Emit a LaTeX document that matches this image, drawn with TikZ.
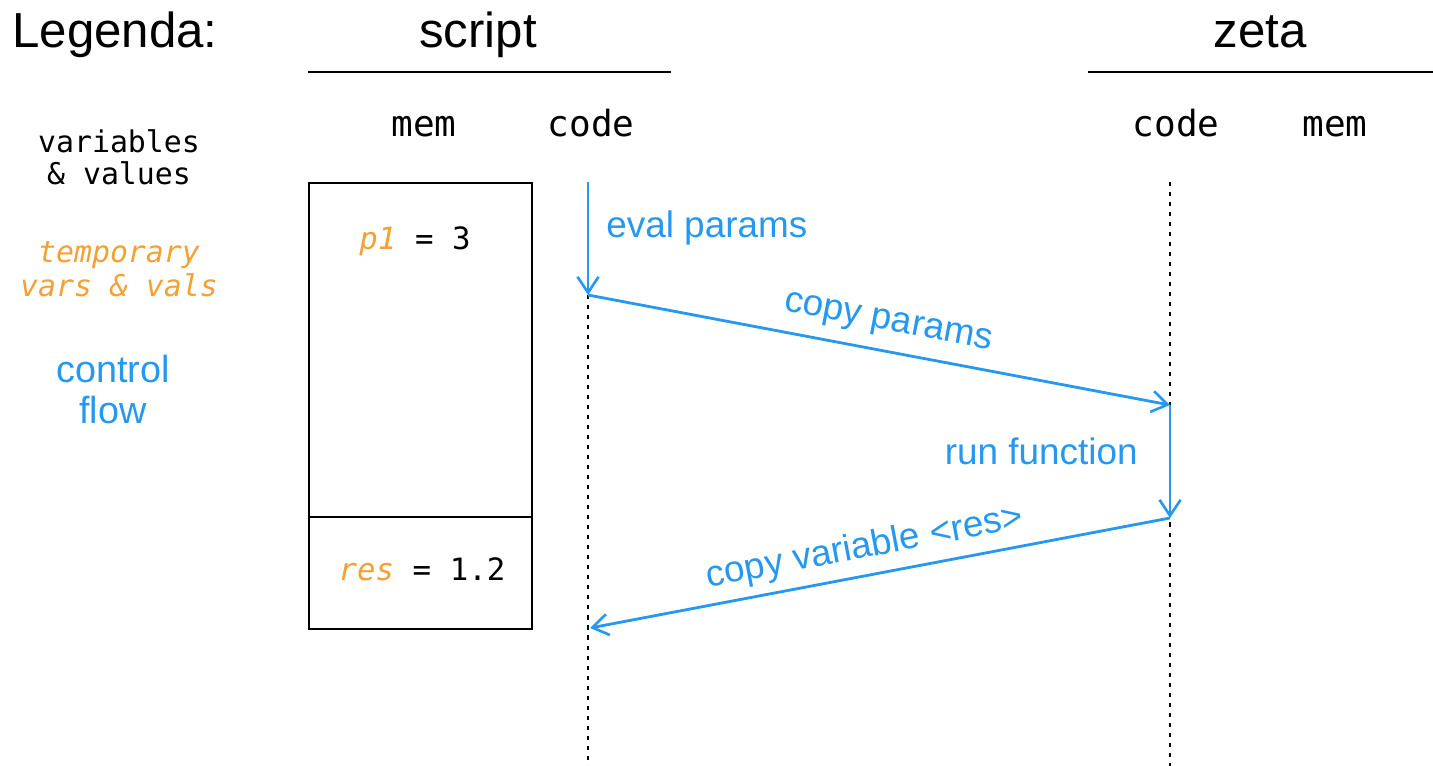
\documentclass[tikz,border=0pt]{standalone}
\usepackage{fontspec}
\setmainfont{Liberation Sans}
\setmonofont{DejaVu Sans Mono}
\usetikzlibrary{arrows.meta}
\definecolor{flowblue}{RGB}{38,152,240}
\definecolor{tmporange}{RGB}{245,160,50}
\tikzset{
  title/.style={font=\fontsize{28}{30}\selectfont, anchor=base, inner sep=0pt},
  colhead/.style={font=\ttfamily\fontsize{20.5}{22}\selectfont, anchor=base, inner sep=0pt},
  legmono/.style={font=\ttfamily\fontsize{17}{19}\selectfont, anchor=base, inner sep=0pt},
  legflow/.style={font=\fontsize{21.5}{23}\selectfont, text=flowblue, anchor=base, inner sep=0pt},
  flowlabel/.style={font=\fontsize{21}{23}\selectfont, text=flowblue, inner sep=0pt},
  memtext/.style={font=\ttfamily\fontsize{17.5}{19}\selectfont, anchor=base, inner sep=0pt},
  flow/.style={draw=flowblue, line width=1.6pt, -{Straight Barb[length=9pt, width=12pt, line width=1.5pt]}},
  lifeline/.style={draw=black, line width=1.3pt, dash pattern=on 2.3pt off 3.4pt},
  headline/.style={draw=black, line width=1.6pt},
  membox/.style={draw=black, line width=1.5pt},
}
\begin{document}
\begin{tikzpicture}[x=0.02cm, y=-0.02cm]
\useasboundingbox (0,0) rectangle (1433,766);

% titles
\node[title, anchor=base west] (legenda) at (12,48) {Legenda:};
\node[title] (script) at (478,48) {script};
\node[title] (zeta) at (1260,48) {zeta};
\draw[headline] (308,72) -- (671,72);
\draw[headline] (1088,72) -- (1433,72);

% column headers
\node[colhead] (smem) at (424,137) {mem};
\node[colhead] (scode) at (591,137) {code};
\node[colhead] (zcode) at (1176,137) {code};
\node[colhead] (zmem) at (1335,137) {mem};

% legend
\node[legmono] (leg1a) at (119,153) {variables};
\node[legmono] (leg1b) at (119,185) {\&{} values};
\node[legmono, text=tmporange, font=\ttfamily\itshape\fontsize{17}{19}\selectfont] (leg2a) at (119,263) {temporary};
\node[legmono, text=tmporange, font=\ttfamily\itshape\fontsize{17}{19}\selectfont] (leg2b) at (119,297) {vars \&{} vals};
\node[legflow] (leg3a) at (113,383) {control};
\node[legflow] (leg3b) at (113,424) {flow};

% memory box of script
\draw[membox] (309,183) rectangle (532,629);
\draw[membox] (309,517) -- (532,517);
\node[memtext] (p1) at (415,250) {\textcolor{tmporange}{\itshape p1} = 3};
\node[memtext] (res) at (422,580) {\textcolor{tmporange}{\itshape res} = 1.2};

% lifeline coordinates
\coordinate (s0) at (588,182);
\coordinate (s1) at (588,295);
\coordinate (s2) at (590,628);
\coordinate (sb) at (588,770);
\coordinate (z0) at (1170,182);
\coordinate (z1) at (1170,405);
\coordinate (z2) at (1170,518);
\coordinate (zb) at (1170,770);

% lifelines
\draw[lifeline] (s1) -- (sb);
\draw[lifeline] (z0) -- (zb);

% control flow
\draw[flow] (s0) -- (s1);
\draw[flow] (s1) -- (z1);
\draw[flow] (z1) -- (z2);
\draw[flow] (z2) -- (s2);

% flow labels
\node[flowlabel, anchor=base west] (evalp) at (606,238) {eval params};
\node[flowlabel, rotate=-10.7] (copyp) at (888,324) {copy params};
\node[flowlabel, anchor=base east] (runf) at (1138,465) {run function};
\node[flowlabel, rotate=10.7] (copyv) at (865,548) {copy variable <res>};
\end{tikzpicture}
\end{document}
